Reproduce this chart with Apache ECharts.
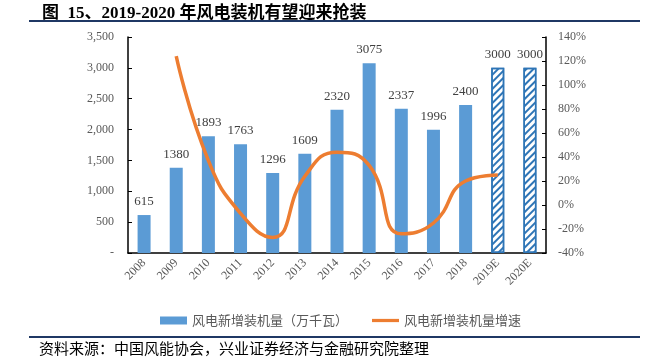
<!DOCTYPE html>
<html><head><meta charset="utf-8">
<script src="https://cdn.jsdelivr.net/npm/echarts@6/dist/echarts.min.js"></script>
<style>html,body{margin:0;padding:0;background:#fff}#c{width:660px;height:360px}</style>
</head><body><div id="c"></div>
<script>
var categories = ['2008','2009','2010','2011','2012','2013','2014','2015','2016','2017','2018','2019E','2020E'];
var installed = [615,1380,1893,1763,1296,1609,2320,3075,2337,1996,2400,3000,3000];
var growth = [null,124,37,-7,-27,24,44,33,-24,-15,20,25,null];
var forecastFrom = 11;

var serif = 'Liberation Serif, Times New Roman, serif';
var cjk = 'Liberation Serif, Noto Sans CJK SC, sans-serif';

var barData = installed.map(function(v,i){
  if (i >= forecastFrom) {
    return {value:v, itemStyle:{color:'#ffffff', borderColor:'#2E75B6', borderWidth:1.5,
      decal:{symbol:'rect', symbolSize:1, dashArrayX:[[1,0]], dashArrayY:[2,3], rotation:-Math.PI/4, color:'#2E75B6'}}};
  }
  return v;
});

var chart = echarts.init(document.getElementById('c'));
chart.setOption({
  animation:false,
  grid:{left:128, right:114, top:37, bottom:107},
  title:{text:'图  15、2019-2020 年风电装机有望迎来抢装', left:37, top:0,
    textStyle:{fontFamily:cjk, fontWeight:'bold', fontSize:17, color:'#000'}},
  graphic:[
    {type:'line', shape:{x1:29,y1:21,x2:640,y2:21}, style:{stroke:'#1F3864', lineWidth:2}},
    {type:'line', shape:{x1:29,y1:337,x2:640,y2:337}, style:{stroke:'#1F3864', lineWidth:2}},
    {type:'text', left:39, top:341, style:{text:'资料来源：中国风能协会，兴业证券经济与金融研究院整理', font:'15px "Noto Sans CJK SC"', fill:'#000'}}
  ],
  legend:{left:155, top:309, itemWidth:27, itemHeight:8, itemGap:24,
    textStyle:{fontFamily:'Noto Sans CJK SC', fontSize:13, color:'#595959'},
    data:[{name:'风电新增装机量（万千瓦）', icon:'rect'},
          {name:'风电新增装机量增速', icon:'path://M0,0H100V12H0Z'}]},
  xAxis:{type:'category', data:categories,
    axisLine:{lineStyle:{color:'#000', width:1.5}},
    axisTick:{inside:true, length:4, lineStyle:{color:'#000'}},
    axisLabel:{rotate:45, margin:8, fontFamily:serif, fontSize:12, color:'#595959'}},
  yAxis:[
    {type:'value', min:0, max:3500, interval:500,
      axisLine:{show:true, lineStyle:{color:'#000', width:1.5}},
      axisTick:{show:true, inside:true, length:4, lineStyle:{color:'#000'}},
      splitLine:{show:false},
      axisLabel:{margin:14, fontFamily:serif, fontSize:12, color:'#595959',
        formatter:function(v){return v===0?'-':v.toLocaleString('en-US');}}},
    {type:'value', min:-40, max:140, interval:20, position:'right',
      axisLine:{show:true, lineStyle:{color:'#000', width:1.5}},
      axisTick:{show:true, inside:true, length:4, lineStyle:{color:'#000'}},
      splitLine:{show:false},
      axisLabel:{margin:12, fontFamily:serif, fontSize:12, color:'#595959', formatter:'{value}%'}}
  ],
  series:[
    {name:'风电新增装机量（万千瓦）', type:'bar', yAxisIndex:0, barWidth:13, data:barData,
      itemStyle:{color:'#5B9BD5'},
      label:{show:true, position:'top', distance:7, fontFamily:serif, fontSize:13, color:'#404040'}},
    {name:'风电新增装机量增速', type:'line', yAxisIndex:1, data:growth, smooth:0.5,
      symbol:'none', connectNulls:false,
      lineStyle:{color:'#ED7D31', width:3.5}, itemStyle:{color:'#ED7D31'}}
  ]
});
</script></body></html>
